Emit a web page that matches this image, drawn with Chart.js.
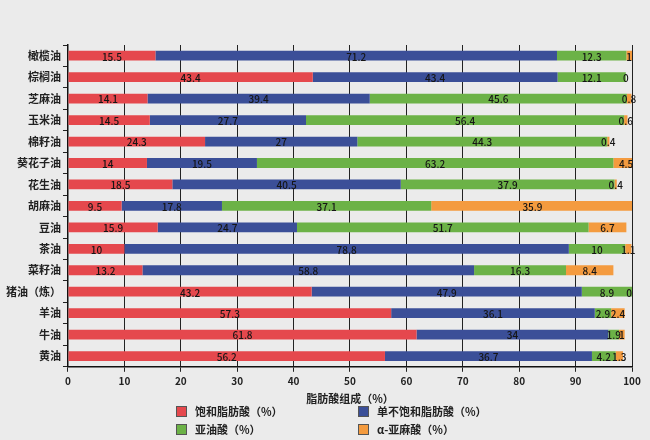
<!DOCTYPE html>
<html>
<head>
<meta charset="utf-8">
<script src="https://cdn.jsdelivr.net/npm/chart.js@4"></script>
<style>
  html, body { margin: 0; padding: 0; background: #ebebeb; }
  #wrap { position: relative; width: 650px; height: 440px; }
  #box { position: absolute; left: 0; top: 0; width: 650px; height: 405px; }
  #legend {
    position: absolute; left: 176px; top: 403px;
    display: grid; grid-template-columns: 182px 200px; row-gap: 2px;
    font: bold 11px "Noto Sans CJK SC", sans-serif; color: #222;
  }
  #legend span.item { display: flex; align-items: center; height: 16px; }
  #legend i { display: inline-block; width: 9px; height: 9px; margin-right: 8px; border: 1px solid #555; }
</style>
</head>
<body>
<div id="wrap">
  <div id="box"><canvas id="fatChart"></canvas></div>
  <div id="legend"></div>
</div>
<script>
// 油脂种类
const categories = ['橄榄油', '棕榈油', '芝麻油', '玉米油', '棉籽油', '葵花子油', '花生油', '胡麻油', '豆油', '茶油', '菜籽油', '猪油（炼）', '羊油', '牛油', '黄油'];

// 各类脂肪酸含量 (%)
const saturated = [15.5, 43.4, 14.1, 14.5, 24.3, 14, 18.5, 9.5, 15.9, 10, 13.2, 43.2, 57.3, 61.8, 56.2];
const monoUnsat = [71.2, 43.4, 39.4, 27.7, 27, 19.5, 40.5, 17.8, 24.7, 78.8, 58.8, 47.9, 36.1, 34, 36.7];
const linoleic  = [12.3, 12.1, 45.6, 56.4, 44.3, 63.2, 37.9, 37.1, 51.7, 10, 16.3, 8.9, 2.9, 1.9, 4.2];
const alphaLin  = [1, 0, 0.8, 0.6, 0.4, 4.5, 0.4, 35.9, 6.7, 1.1, 8.4, 0, 2.4, 1, 1.3];

const seriesNames = ['饱和脂肪酸（%）', '单不饱和脂肪酸（%）', '亚油酸（%）', 'α-亚麻酸（%）'];
const seriesColors = ['#e5484d', '#3b4f98', '#6cb247', '#f49b3f'];
const xTicks = [0, 10, 20, 30, 40, 50, 60, 70, 80, 90, 100];

// 在每段中间写数值
const valueLabels = {
    id: 'valueLabels',
    afterDatasetsDraw(chart) {
        const ctx = chart.ctx;
        ctx.save();
        ctx.font = '500 10px "Noto Sans CJK SC", sans-serif';
        ctx.fillStyle = '#151515';
        ctx.textAlign = 'center';
        ctx.textBaseline = 'middle';
        chart.data.datasets.forEach((ds, i) => {
            const meta = chart.getDatasetMeta(i);
            meta.data.forEach((bar, j) => {
                const x = Math.min((bar.x + bar.base) / 2, chart.chartArea.right - 3);
                ctx.fillText(String(ds.data[j]), x, bar.y + 1);
            });
        });
        ctx.restore();
    }
};

const datasets = [saturated, monoUnsat, linoleic, alphaLin].map((arr, i) => ({
    label: seriesNames[i],
    data: arr,
    backgroundColor: seriesColors[i],
    borderWidth: 0,
    barPercentage: 0.48,
    categoryPercentage: 0.95
}));

new Chart(document.getElementById('fatChart'), {
    type: 'bar',
    data: { labels: categories, datasets: datasets },
    options: {
        indexAxis: 'y',
        responsive: true,
        maintainAspectRatio: false,
        animation: false,
        layout: { padding: { top: 45, right: 18, left: 4, bottom: 0 } },
        plugins: {
            legend: { display: false },
            tooltip: { enabled: false }
        },
        scales: {
            x: {
                stacked: true,
                min: 0,
                max: 100,
                afterBuildTicks: axis => { axis.ticks = xTicks.map(v => ({ value: v })); },
                grid: { color: '#222', lineWidth: 1, tickLength: 5, tickColor: '#222' },
                border: { color: '#111', width: 1.5 },
                ticks: { color: '#222', font: { size: 10, family: '"Noto Sans CJK SC", sans-serif', weight: 'bold' }, padding: 3 },
                title: {
                    display: true,
                    text: '脂肪酸组成（%）',
                    color: '#222',
                    font: { size: 11, family: '"Noto Sans CJK SC", sans-serif', weight: 'bold' },
                    padding: { top: 2, bottom: 0 }
                }
            },
            y: {
                stacked: true,
                grid: { drawOnChartArea: false, tickLength: 5, color: '#222' },
                border: { color: '#111', width: 1.5 },
                ticks: { color: '#222', font: { size: 11, family: '"Noto Sans CJK SC", sans-serif', weight: 'bold' }, padding: 2 }
            }
        }
    },
    plugins: [valueLabels]
});

// 图例，两行两列
const legend = document.getElementById('legend');
[0, 1, 2, 3].forEach(i => {
    const item = document.createElement('span');
    item.className = 'item';
    item.innerHTML = '<i style="background:' + seriesColors[i] + '"></i>' + seriesNames[i];
    legend.appendChild(item);
});
</script>
</body>
</html>
